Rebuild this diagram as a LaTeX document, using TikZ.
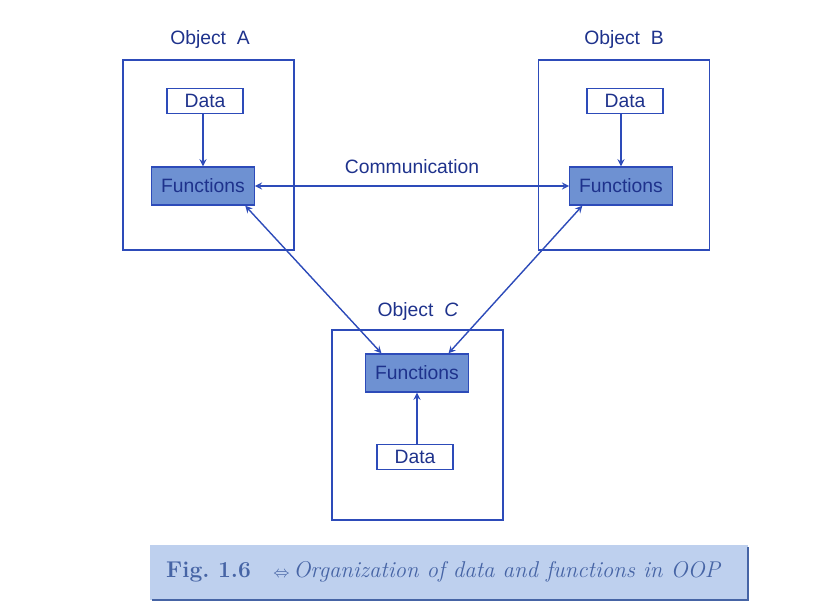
\documentclass[tikz,border=0pt]{standalone}
\usepackage{fontspec}
\setsansfont{Liberation Sans}
\usetikzlibrary{arrows, positioning}
\definecolor{oopblue}{RGB}{45,75,185}
\definecolor{oopfill}{RGB}{110,145,210}
\definecolor{ooptext}{RGB}{30,50,140}
\definecolor{capfill}{RGB}{190,208,238}
\definecolor{captext}{RGB}{70,100,165}
\tikzstyle{object} = [rectangle, minimum width=3.42cm, minimum height=3.8cm, draw=oopblue, thick]
\tikzstyle{data} = [rectangle, minimum width=1.52cm, minimum height=0.48cm, text centered, draw=oopblue, thick, fill=white, text=ooptext]
\tikzstyle{func} = [rectangle, minimum width=2.05cm, minimum height=0.76cm, text centered, draw=oopblue, thick, fill=oopfill, text=ooptext]
\tikzstyle{title} = [text=ooptext]
\tikzstyle{arrow} = [thick, draw=oopblue, ->, >=stealth]
\tikzstyle{link} = [thick, draw=oopblue, <->, >=stealth]

\begin{document}
\begin{tikzpicture}[x=0.02cm, y=-0.02cm, every node/.style={font=\sffamily\fontsize{11}{13}\selectfont}]
\useasboundingbox (0,0) rectangle (832,612);

% object A
\node (objA) [object] at (208.5,155) {};
\node (titleA) [title] at (210,40) {Object\ \ A};
\node (dataA) [data] at (205,101) {Data};
\node (funcA) [func] at (203,186) {Functions};

% object B
\node (objB) [object] at (624,155) {};
\node (titleB) [title] at (624,40) {Object\ \ B};
\node (dataB) [data] at (625,101) {Data};
\node (funcB) [func] at (621,186) {Functions};

% object C
\node (objC) [object] at (417.5,425) {};
\node (titleC) [title] at (418,311) {Object\ \ \textit{C}};
\node (funcC) [func] at (417,373) {Functions};
\node (dataC) [data] at (415,457) {Data};

\draw [arrow] (funcA.north |- dataA.south) -- (funcA.north);
\draw [arrow] (funcB.north |- dataB.south) -- (funcB.north);
\draw [arrow] (funcC.south |- dataC.north) -- (funcC.south);
\draw [link] (funcA) -- node[above=3pt, text=ooptext] {Communication} (funcB);
\draw [link] (funcA.-25) -- (funcC.151);
\draw [link] (funcB.207) -- (funcC.32);

% caption
\fill [capfill] (150,545) rectangle (748,600);
\draw [captext, line width=1.5pt] (748,547) -- (748,600) -- (152,600);
\node (caption) [text=captext, font=\rmfamily\fontsize{13}{15}\selectfont, anchor=west] at (160,572)
  {\textbf{Fig.\ 1.6}\ \ \ $\scriptstyle\Leftrightarrow$\,\textit{Organization of data and functions in OOP}};

\end{tikzpicture}
\end{document}
